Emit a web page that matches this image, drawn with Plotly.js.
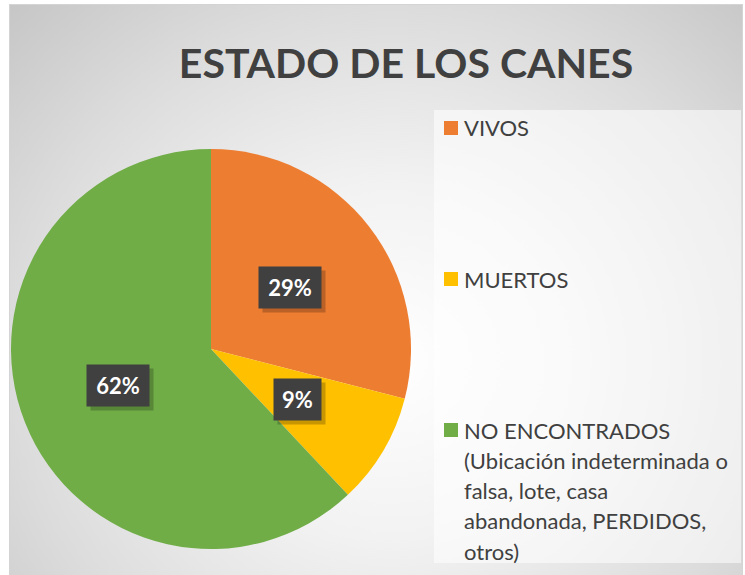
<!DOCTYPE html>
<html>
<head>
<meta charset="utf-8">
<script src="https://cdn.plot.ly/plotly-3.0.1.min.js"></script>
<style>
  html, body { margin: 0; padding: 0; background: #ffffff; }
  #wrap { position: relative; width: 745px; height: 575px; overflow: hidden; background: #ffffff; }
  #bg { position: absolute; left: 10px; top: 5px; width: 732px; height: 575px;
        background: radial-gradient(farthest-corner at 52% 62%, #ffffff 0%, #f2f2f2 35%, #dcdcdc 70%, #c6c6c6 100%);
        box-shadow: 0 0 0 1px #d4d4d4; }
  #chart { position: absolute; left: 0; top: 0; width: 745px; height: 575px; }
</style>
</head>
<body>
<div id="wrap"><div id="bg"></div><div id="chart"></div></div>
<script>
// ---- data ----
var titleText = 'ESTADO DE LOS CANES';
var categories = ['VIVOS', 'MUERTOS', 'NO ENCONTRADOS (Ubicación indeterminada o falsa, lote, casa abandonada, PERDIDOS, otros)'];
var legendText = ['VIVOS', 'MUERTOS', 'NO ENCONTRADOS<br>(Ubicación indeterminada o<br>falsa, lote, casa<br>abandonada, PERDIDOS,<br>otros)'];
var values = [29, 9, 62];
var colors = ['#ED7D31', '#FFC000', '#70AD47'];

// ---- layout constants ----
var W = 745, H = 575;
var cx = 211, cy = 349, R = 200;
function px(x) { return x / W; }
function py(y) { return 1 - y / H; }

var total = values.reduce(function (a, b) { return a + b; }, 0);

var trace = {
  type: 'pie',
  labels: categories,
  values: values,
  sort: false,
  direction: 'clockwise',
  rotation: 0,
  marker: { colors: colors, line: { width: 0 } },
  textinfo: 'none',
  hoverinfo: 'label+percent',
  showlegend: false,
  domain: { x: [px(cx - R), px(cx + R)], y: [py(cy + R), py(cy - R)] }
};

var annotations = [];
var shapes = [];

// legend panel
shapes.push({ type: 'rect', xref: 'paper', yref: 'paper', layer: 'below',
  x0: px(434), x1: px(741), y0: py(563), y1: py(110),
  fillcolor: 'rgba(255,255,255,0.55)', line: { width: 0 } });

// data labels (percent) at half radius along each slice's mid angle
var cum = 0;
values.forEach(function (v, i) {
  var pct = Math.round(v / total * 100);
  var mid = (cum + v / 2) / total * 2 * Math.PI;
  cum += v;
  var lx = cx + 0.5 * R * Math.sin(mid);
  var ly = cy - 0.5 * R * Math.cos(mid);
  var txt = pct + '%';
  var w = 15 * txt.length + 9;
  // shadow
  annotations.push({ xref: 'paper', yref: 'paper', x: px(lx + 4), y: py(ly + 4),
    xanchor: 'center', yanchor: 'middle',
    text: ' ', showarrow: false, width: w, height: 33, borderpad: 4,
    bgcolor: 'rgba(0,0,0,0.22)', font: { size: 22 } });
  annotations.push({ xref: 'paper', yref: 'paper', x: px(lx), y: py(ly),
    xanchor: 'center', yanchor: 'middle',
    text: '<b>' + txt + '</b>', showarrow: false, width: w, height: 33, borderpad: 4,
    bgcolor: '#404040', font: { family: 'Lato, sans-serif', size: 22, color: '#ffffff' } });
});

// legend entries
var legTop = 128, legStep = 151, lineStep = 30.3;
legendText.forEach(function (t, i) {
  var y0 = legTop + i * legStep;
  shapes.push({ type: 'rect', xref: 'paper', yref: 'paper',
    x0: px(444), x1: px(458), y0: py(y0 + 7), y1: py(y0 - 7),
    fillcolor: colors[i], line: { width: 0 } });
  t.split('<br>').forEach(function (line, j) {
    annotations.push({ xref: 'paper', yref: 'paper', x: px(462), y: py(y0 + j * lineStep),
      xanchor: 'left', yanchor: 'middle', text: line, showarrow: false,
      font: { family: 'Lato, sans-serif', size: 22, color: '#404040' } });
  });
});

var layout = {
  width: W, height: H,
  margin: { l: 0, r: 0, t: 0, b: 0 },
  paper_bgcolor: 'rgba(0,0,0,0)',
  plot_bgcolor: 'rgba(0,0,0,0)',
  title: { text: titleText, x: px(406), xanchor: 'center', y: py(64), yanchor: 'middle',
    xref: 'paper', yref: 'container',
    font: { family: 'Lato, sans-serif', size: 41, color: '#404040', weight: 'bold' } },
  shapes: shapes,
  annotations: annotations,
  showlegend: false
};

Plotly.newPlot('chart', [trace], layout, { displayModeBar: false, staticPlot: true });
</script>
</body>
</html>
